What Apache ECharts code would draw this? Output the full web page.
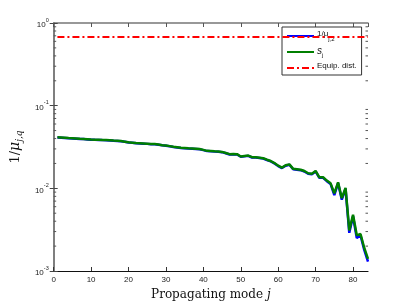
<!DOCTYPE html>
<html><head><meta charset="utf-8">
<script src="https://cdn.jsdelivr.net/npm/echarts@6/dist/echarts.min.js"></script>
<style>html,body{margin:0;padding:0;background:#fff}#c{width:407px;height:306px}</style>
</head><body><div id="c"></div>
<script>
const modes = Array.from({length: 84}, (_, i) => i + 1);
const sj = [0.0414,0.0412,0.0409,0.0406,0.0404,0.0401,0.0398,0.0396,0.0393,0.0390,
0.0388,0.0387,0.0385,0.0384,0.0381,0.0378,0.0376,0.0373,0.0367,0.0360,
0.0357,0.0353,0.0351,0.0349,0.0347,0.0344,0.0343,0.0338,0.0333,0.0329,
0.0324,0.0318,0.0314,0.0310,0.0308,0.0305,0.0303,0.0301,0.0299,0.0292,
0.0284,0.0282,0.0280,0.0279,0.0276,0.0268,0.0259,0.0260,0.0259,0.0243,
0.0246,0.0249,0.0238,0.0238,0.0235,0.0231,0.0222,0.0214,0.0202,0.0188,
0.0178,0.0190,0.0195,0.0172,0.0170,0.0168,0.0162,0.0152,0.0150,0.0162,
0.0136,0.0136,0.0124,0.0115,0.0087,0.0118,0.0076,0.0101,0.0031,0.0048,
0.0027,0.0028,0.0019,0.0014];
const invMu = [0.0412,0.0410,0.0407,0.0404,0.0402,0.0399,0.0396,0.0394,0.0391,0.0388,
0.0386,0.0385,0.0383,0.0382,0.0379,0.0376,0.0374,0.0371,0.0365,0.0358,
0.0355,0.0351,0.0349,0.0347,0.0345,0.0342,0.0341,0.0336,0.0331,0.0327,
0.0322,0.0316,0.0312,0.0308,0.0306,0.0303,0.0301,0.0299,0.0297,0.0290,
0.0282,0.0280,0.0278,0.0277,0.0274,0.0266,0.0257,0.0258,0.0257,0.0241,
0.0244,0.0247,0.0236,0.0236,0.0233,0.0229,0.0220,0.0212,0.0200,0.0186,
0.0176,0.0188,0.0193,0.0170,0.0168,0.0166,0.0160,0.0150,0.0148,0.0160,
0.0134,0.0134,0.0122,0.0113,0.0083,0.0116,0.0073,0.0099,0.0029,0.0046,
0.0025,0.0027,0.0018,0.0013];
const equipMode = [1, 84];
const equipVal = [0.676, 0.676];
const minorVals = [];
[0.001,0.01,0.1].forEach(d => { for (let k = 2; k <= 9; k++) minorVals.push(+(d*k).toPrecision(3)); });

const chart = echarts.init(document.getElementById('c'));
const axisFont = 'Liberation Sans';
const supRich = {
  b: {fontSize: 8, fontFamily: axisFont, color: '#222', verticalAlign: 'bottom', lineHeight: 12},
  e: {fontSize: 5.5, fontFamily: axisFont, color: '#222', verticalAlign: 'top', lineHeight: 12}
};
chart.setOption({
  animation: false,
  grid: {left: 53, right: 39, top: 23, bottom: 35},
  legend: {
    data: ['invmu', 'sj', 'equip'],
    orient: 'vertical', left: 282, top: 27,
    itemWidth: 27, itemHeight: 10, itemGap: 4,
    padding: [3, 5, 3, 4],
    borderColor: '#333', borderWidth: 1, backgroundColor: '#fff',
    itemStyle: {opacity: 0},
    formatter: function (n) {
      if (n === 'invmu') return '{n|1/μ}{s|j,2}';
      if (n === 'sj') return '{i|s}{s|j}';
      return '{n|Equip. dist.}';
    },
    textStyle: {
      fontFamily: axisFont, fontSize: 8, color: '#111', padding: [0,0,0,-2],
      rich: {
        n: {fontSize: 8, fontFamily: axisFont, verticalAlign: 'top', lineHeight: 12},
        i: {fontSize: 10, fontFamily: axisFont, fontStyle: 'italic', verticalAlign: 'top', lineHeight: 12},
        s: {fontSize: 6, fontFamily: axisFont, verticalAlign: 'bottom', lineHeight: 12}
      }
    }
  },
  xAxis: [{
    type: 'value', min: 0, max: 84, interval: 10,
    name: 'Propagating mode {i|j}', nameLocation: 'middle', nameGap: 16,
    nameTextStyle: {fontFamily: 'DejaVu Serif', fontSize: 12, color: '#111',
      rich: {i: {fontFamily: 'DejaVu Serif', fontStyle: 'italic', fontSize: 12}}},
    axisLine: {lineStyle: {color: '#111', width: 1.2}},
    axisTick: {inside: true, length: 4, lineStyle: {color: '#333'}},
    axisLabel: {fontSize: 8, fontFamily: axisFont, color: '#222', margin: 5, showMaxLabel: false},
    splitLine: {show: false}
  }, {
    type: 'value', min: 0, max: 84, interval: 10, position: 'top',
    axisLine: {lineStyle: {color: '#777', width: 1.5}},
    axisTick: {inside: true, length: 4, lineStyle: {color: '#555'}},
    axisLabel: {show: false}, splitLine: {show: false}
  }],
  yAxis: [{
    type: 'log', logBase: 10, min: 0.001, max: 1,
    name: '1/{m|μ}{s|j,q}', nameLocation: 'middle', nameGap: 27, nameRotate: 90,
    nameTextStyle: {fontFamily: 'DejaVu Serif', fontSize: 13, color: '#111',
      rich: {
        m: {fontFamily: 'DejaVu Serif', fontStyle: 'italic', fontSize: 14, verticalAlign: 'top', lineHeight: 16},
        s: {fontFamily: 'DejaVu Serif', fontStyle: 'italic', fontSize: 9, verticalAlign: 'bottom', lineHeight: 16}
      }},
    axisLine: {show: true, lineStyle: {color: '#777', width: 1.5}},
    axisTick: {inside: true, length: 4, lineStyle: {color: '#444'}},
    axisLabel: {
      margin: 5,
      formatter: v => '{b|10}{e|' + Math.round(Math.log10(v)) + '}',
      rich: supRich
    },
    splitLine: {show: false}
  }, {
    type: 'log', logBase: 10, min: 0.001, max: 1, position: 'right',
    axisLine: {show: true, lineStyle: {color: '#777', width: 1.5}},
    axisTick: {inside: true, length: 4, lineStyle: {color: '#444'}},
    axisLabel: {show: false}, splitLine: {show: false}
  }],
  series: [{
    name: 'invmu', type: 'line', data: modes.map((m, i) => [m, invMu[i]]),
    showSymbol: false, symbol: 'circle', lineStyle: {color: '#0000ff', width: 2.5}, itemStyle: {color: '#0000ff'}, z: 3
  }, {
    name: 'sj', type: 'line', data: modes.map((m, i) => [m, sj[i]]),
    showSymbol: false, symbol: 'circle', lineStyle: {color: '#007f00', width: 2.5}, itemStyle: {color: '#007f00'}, z: 4
  }, {
    name: 'equip', type: 'line', data: equipMode.map((m, i) => [m, equipVal[i]]),
    showSymbol: false, symbol: 'circle', lineStyle: {color: '#ff0000', width: 2, type: [7, 3, 2, 3]}, itemStyle: {color: '#ff0000'}, z: 5
  }, {
    type: 'custom', silent: true, clip: false, z: 6,
    data: minorVals.map(v => [0, v]),
    renderItem: function (params, api) {
      const cs = params.coordSys;
      const y = api.coord([0, api.value(1)])[1];
      const st = {stroke: '#555', lineWidth: 1};
      return {type: 'group', children: [
        {type: 'line', shape: {x1: cs.x, y1: y, x2: cs.x + 2.5, y2: y}, style: st},
        {type: 'line', shape: {x1: cs.x + cs.width - 2.5, y1: y, x2: cs.x + cs.width, y2: y}, style: st}
      ]};
    }
  }]
});
</script></body></html>
